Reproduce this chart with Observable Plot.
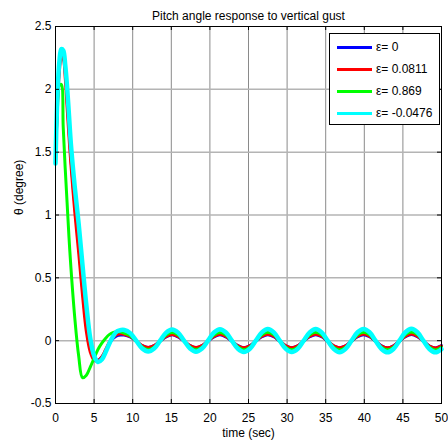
<!DOCTYPE html>
<html>
<head>
<meta charset="utf-8">
<script src="https://cdn.jsdelivr.net/npm/d3@7"></script>
<script src="https://cdn.jsdelivr.net/npm/@observablehq/plot@0.6"></script>
<style>
  body { margin: 0; background: #fff; }
  #wrap { position: relative; width: 448px; height: 446px; font-family: "Liberation Sans", Arial, sans-serif; }
  #legend { position: absolute; left: 329px; top: 33px; width: 111px; height: 92px; box-sizing: border-box;
            border: 1px solid #000; background: #fff; padding-top: 2px; }
  .row { height: 22px; display: flex; align-items: center; font-size: 12px; color: #000; }
  .sw { width: 35px; height: 3px; margin-left: 7px; margin-right: 4px; }
</style>
</head>
<body>
<div id="wrap"></div>
<script>
const title = "Pitch angle response to vertical gust";
const xLabel = "time (sec)";
const yLabel = "θ (degree)";
const xTicks = [0, 5, 10, 15, 20, 25, 30, 35, 40, 45, 50];
const yTicks = [-0.5, 0, 0.5, 1, 1.5, 2, 2.5];

const seriesNames = ["ε= 0", "ε= 0.0811", "ε= 0.869", "ε= -0.0476"];
const seriesColors = ["#0000ff", "#ff0000", "#00ff00", "#00ffff"];
const seriesWidths = [3, 3, 3, 4.5];

const time = [0, 0.25, 0.5, 0.75, 1.0, 1.25, 1.5, 1.75, 2.0, 2.5, 3.0, 3.5, 4.0, 4.5, 5.0, 5.5, 6.0, 6.5, 7.0, 7.5, 8.0, 8.5, 8.9,
  9.68, 10.45, 11.23, 12.0, 12.78, 13.55, 14.33, 15.1,
  15.88, 16.65, 17.43, 18.2, 18.98, 19.75, 20.53, 21.3,
  22.08, 22.85, 23.63, 24.4, 25.18, 25.95, 26.73, 27.5,
  28.28, 29.05, 29.83, 30.6, 31.38, 32.15, 32.93, 33.7,
  34.48, 35.25, 36.03, 36.8, 37.58, 38.35, 39.13, 39.9,
  40.68, 41.45, 42.23, 43.0, 43.78, 44.55, 45.33, 46.1,
  46.88, 47.65, 48.43, 49.2, 50.0];

// eps = 0 (blue)
const thetaEps0 = [1.41, 1.90, 2.17, 2.28, 2.27, 2.15, 1.93, 1.68, 1.45, 1.08, 0.76, 0.42, 0.12, -0.06, -0.14, -0.155, -0.13, -0.08, -0.02, 0.02, 0.04, 0.045, 0.045,
  0.03, -0.004, -0.04, -0.055, -0.04, -0.004, 0.03, 0.047,
  0.03, -0.004, -0.04, -0.056, -0.04, -0.004, 0.03, 0.047,
  0.03, -0.004, -0.04, -0.056, -0.04, -0.004, 0.031, 0.048,
  0.031, -0.004, -0.041, -0.057, -0.041, -0.004, 0.031, 0.048,
  0.031, -0.004, -0.041, -0.057, -0.041, -0.004, 0.031, 0.048,
  0.031, -0.004, -0.041, -0.058, -0.041, -0.004, 0.031, 0.049,
  0.032, -0.004, -0.042, -0.058, -0.04];
// eps = 0.0811 (red)
const thetaEps0811 = [1.41, 1.88, 2.14, 2.25, 2.24, 2.10, 1.86, 1.62, 1.40, 1.02, 0.70, 0.36, 0.07, -0.09, -0.155, -0.16, -0.13, -0.07, -0.01, 0.03, 0.05, 0.055, 0.05,
  0.033, -0.003, -0.04, -0.055, -0.04, -0.003, 0.034, 0.05,
  0.034, -0.003, -0.04, -0.055, -0.04, -0.003, 0.034, 0.051,
  0.034, -0.003, -0.041, -0.056, -0.041, -0.003, 0.035, 0.052,
  0.035, -0.003, -0.041, -0.056, -0.041, -0.003, 0.035, 0.052,
  0.035, -0.003, -0.041, -0.057, -0.041, -0.003, 0.035, 0.053,
  0.036, -0.003, -0.042, -0.057, -0.042, -0.003, 0.036, 0.054,
  0.036, -0.003, -0.042, -0.058, -0.042];
// eps = 0.869 (green)
const thetaEps869 = [1.41, 1.85, 2.03, 2.04, 1.70, 1.38, 1.10, 0.82, 0.58, 0.18, -0.12, -0.295, -0.275, -0.21, -0.14, -0.07, -0.02, 0.02, 0.05, 0.065, 0.07, 0.068, 0.06,
  0.04, -0.005, -0.05, -0.07, -0.052, -0.005, 0.045, 0.064,
  0.045, -0.004, -0.051, -0.071, -0.052, -0.004, 0.046, 0.065,
  0.046, -0.004, -0.051, -0.072, -0.052, -0.004, 0.046, 0.066,
  0.046, -0.004, -0.052, -0.072, -0.052, -0.004, 0.047, 0.067,
  0.047, -0.004, -0.052, -0.073, -0.053, -0.004, 0.047, 0.067,
  0.047, -0.004, -0.053, -0.073, -0.053, -0.004, 0.048, 0.068,
  0.048, -0.004, -0.053, -0.074, -0.052];
// eps = -0.0476 (cyan)
const thetaEpsNeg = [1.41, 1.95, 2.22, 2.32, 2.31, 2.20, 2.02, 1.79, 1.56, 1.22, 0.93, 0.60, 0.28, 0.02, -0.12, -0.17, -0.15, -0.09, -0.02, 0.04, 0.075, 0.085, 0.085,
  0.06, 0.0, -0.062, -0.086, -0.062, 0.0, 0.064, 0.089,
  0.064, 0.0, -0.063, -0.088, -0.063, 0.0, 0.065, 0.091,
  0.065, 0.0, -0.064, -0.09, -0.064, 0.0, 0.066, 0.092,
  0.066, 0.0, -0.065, -0.091, -0.065, 0.0, 0.066, 0.093,
  0.066, 0.0, -0.065, -0.092, -0.065, 0.0, 0.067, 0.093,
  0.067, 0.0, -0.066, -0.093, -0.066, 0.0, 0.067, 0.094,
  0.067, 0.0, -0.066, -0.093, -0.068];

const seriesValues = [thetaEps0, thetaEps0811, thetaEps869, thetaEpsNeg];
const rows = [];
seriesValues.forEach((vals, s) => vals.forEach((v, i) => rows.push({t: time[i], v, s})));

const W = 448, H = 446, mL = 55, mR = 7, mT = 26, mB = 43;
const pw = W - mL - mR, ph = H - mT - mB;

const lineMarks = seriesValues.map((vals, s) =>
  Plot.line(rows.filter(r => r.s === s), {x: "t", y: "v", stroke: seriesColors[s], strokeWidth: seriesWidths[s], curve: "catmull-rom", strokeLinejoin: "round"})
);

const chart = Plot.plot({
  width: W, height: H,
  marginLeft: mL, marginRight: mR, marginTop: mT, marginBottom: mB,
  style: {fontFamily: "'Liberation Sans', Arial, sans-serif", fontSize: "12px", background: "#fff", color: "#000", overflow: "visible"},
  x: {domain: [0, 50]},
  y: {domain: [-0.5, 2.5]},
  marks: [
    Plot.ruleX(xTicks.slice(1, -1), {x: d => d, stroke: "#8a8a8a", strokeWidth: 1}),
    Plot.ruleY(yTicks.slice(1, -1), {y: d => d, stroke: "#b4b4b4", strokeWidth: 1.5}),
    ...lineMarks,
    Plot.tickX(xTicks, {x: d => d, insetTop: ph - 4, stroke: "#000"}),
    Plot.tickX(xTicks, {x: d => d, insetBottom: ph - 4, stroke: "#000"}),
    Plot.tickY(yTicks, {y: d => d, insetRight: pw - 4, stroke: "#000"}),
    Plot.tickY(yTicks, {y: d => d, insetLeft: pw - 4, stroke: "#000"}),
    Plot.frame({stroke: "#000", strokeWidth: 1}),
    Plot.axisX(xTicks, {tickSize: 0, tickPadding: 10, label: null, fontSize: 12}),
    Plot.axisY(yTicks, {tickSize: 0, tickPadding: 4, tickFormat: d => String(d), label: null, fontSize: 12}),
    Plot.text([xLabel], {frameAnchor: "bottom", dy: 33, text: d => d, fontSize: 12}),
    Plot.text([yLabel], {frameAnchor: "left", dx: -36, rotate: -90, text: d => d, fontSize: 12}),
    Plot.text([title], {frameAnchor: "top", dy: -15, text: d => d, fontSize: 12})
  ]
});

const wrap = document.getElementById("wrap");
wrap.appendChild(chart);

const legend = document.createElement("div");
legend.id = "legend";
seriesNames.forEach((name, i) => {
  const row = document.createElement("div");
  row.className = "row";
  const sw = document.createElement("div");
  sw.className = "sw";
  sw.style.background = seriesColors[i];
  const tx = document.createElement("span");
  tx.textContent = name;
  row.appendChild(sw);
  row.appendChild(tx);
  legend.appendChild(row);
});
wrap.appendChild(legend);
</script>
</body>
</html>
